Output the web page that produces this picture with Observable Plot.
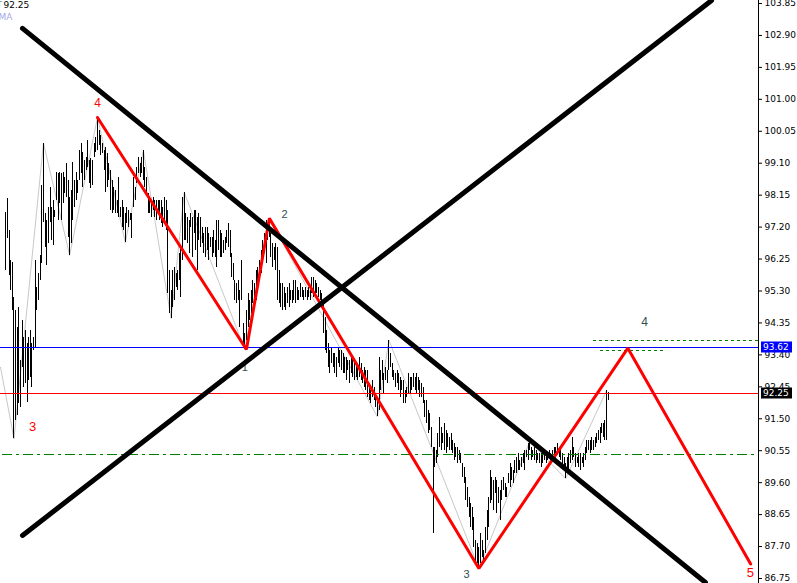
<!DOCTYPE html>
<html><head><meta charset="utf-8">
<script src="https://cdn.jsdelivr.net/npm/d3@7"></script>
<script src="https://cdn.jsdelivr.net/npm/@observablehq/plot@0.6"></script>
<style>html,body{margin:0;padding:0;background:#fff;} #chart{width:797px;height:583px;overflow:hidden;}</style>
</head><body><div id="chart"></div>
<script>
// Bar highs / lows (one entry per bar, oldest first)
const high = [
97.64,98.05,97.10,96.21,96.15,95.11,94.72,94.22,94.81,93.23,
94.42,93.92,94.13,93.74,93.92,94.13,93.74,93.92,96.21,95.41,
95.82,96.36,98.44,99.70,97.61,97.40,97.78,98.38,97.78,97.99,
97.69,98.82,98.79,98.82,98.79,98.82,98.68,99.09,98.59,98.08,
98.29,99.12,98.59,98.82,98.59,99.48,99.69,99.42,99.18,99.27,
99.78,99.18,99.24,99.18,99.69,99.87,100.46,100.07,99.93,99.69,
99.48,99.57,99.39,99.09,98.88,98.59,98.38,98.29,97.99,98.68,
97.78,97.99,
97.78,97.61,97.78,97.69,97.61,97.61,98.68,98.38,98.97,99.27,
99.09,99.27,99.48,98.97,98.68,98.20,98.08,97.99,98.08,97.99,
97.99,97.99,97.99,97.99,97.78,98.08,97.99,97.69,95.91,95.32,
95.91,96.00,95.82,95.91,96.42,96.59,98.08,98.23,97.61,97.49,
97.40,97.61,97.49,97.69,97.69,97.49,97.61,97.49,97.19,97.01,
97.19,97.19,97.01,96.89,96.89,97.10,96.80,97.40,97.40,97.10,
97.01,96.80,96.89,97.10,97.31,97.10,96.42,96.12,95.61,95.52,
95.61,95.32,
96.21,94.33,94.04,94.72,95.23,95.02,95.32,95.61,95.52,95.91,
96.00,96.21,96.51,96.80,97.01,97.40,97.31,97.46,97.01,96.71,
96.59,96.71,96.59,95.91,95.52,95.52,95.41,95.23,95.41,95.52,
95.32,95.32,95.61,95.61,95.41,95.32,95.52,95.41,95.32,95.41,
95.32,95.41,95.32,95.70,95.70,95.61,95.52,95.41,95.32,95.23,
94.93,94.51,94.13,93.74,93.53,93.62,93.44,93.44,93.32,93.62,
93.53,93.53,93.44,93.32,93.32,93.23,93.23,93.32,93.32,93.23,
93.14,93.03,
93.32,93.14,92.94,93.03,92.94,92.94,92.55,92.34,92.64,92.43,
92.25,92.13,93.32,92.94,93.23,92.85,93.03,92.94,93.84,93.44,
93.14,92.94,92.85,92.94,92.85,92.73,92.64,92.64,92.34,92.43,
92.85,92.73,92.73,92.85,92.73,92.85,92.73,92.64,92.55,92.43,
92.04,92.04,91.75,91.66,91.24,90.65,90.65,90.56,91.06,91.54,
91.24,91.06,91.36,91.15,91.06,90.94,91.06,90.85,90.77,90.65,
90.65,90.56,90.47,90.17,90.05,89.75,89.46,89.16,88.98,88.86,
88.56,87.88,87.79,87.67,
88.09,87.88,87.58,88.27,88.77,89.16,89.96,89.75,89.67,89.75,
89.67,89.46,89.37,89.67,89.75,89.58,89.46,89.87,90.17,90.05,
89.96,90.26,90.35,90.47,90.26,90.35,90.47,90.56,90.56,90.77,
90.82,90.65,90.56,90.65,90.56,90.47,90.47,90.47,90.47,90.56,
90.47,90.47,90.56,90.47,90.56,90.65,90.65,90.77,90.65,90.65,
90.47,90.35,90.17,90.35,90.47,90.56,90.94,90.65,90.47,90.35,
90.47,90.47,90.35,90.47,90.65,90.85,90.85,90.85,90.94,90.85,
90.94,91.06,91.15,91.24,91.36,91.36,91.45,92.34,92.28
];
const low = [
95.91,96.86,95.76,95.32,94.72,90.90,91.45,91.60,91.95,91.84,
93.03,92.43,92.55,91.98,92.64,92.73,92.43,93.53,93.59,94.72,
95.02,95.61,96.12,97.34,96.59,96.06,96.71,97.34,96.80,96.65,
97.49,97.99,97.40,97.90,97.40,97.90,98.20,98.08,96.89,96.36,
96.71,97.40,97.78,97.99,98.20,98.59,98.79,98.38,98.59,98.88,
98.97,98.50,98.35,98.44,99.27,99.42,99.48,99.63,99.33,99.39,
98.88,98.23,98.38,98.59,97.69,97.61,97.69,97.61,97.61,97.49,
97.49,97.19,
97.10,96.74,97.31,97.19,97.40,96.86,97.78,97.99,98.50,98.79,
98.68,98.79,98.59,98.38,98.20,97.61,97.61,97.49,97.69,97.49,
97.40,97.61,97.40,97.31,97.19,97.40,97.10,95.23,94.63,94.48,
94.81,95.02,95.41,95.32,95.61,95.11,96.21,96.80,96.80,96.71,
96.42,97.19,96.30,97.01,96.51,95.91,96.80,96.59,96.71,96.42,
96.30,96.51,96.21,96.59,96.30,96.42,96.30,96.00,96.51,96.30,
96.30,96.42,96.51,96.71,96.59,96.30,95.70,95.61,95.02,94.93,
95.02,94.22,
95.02,93.62,93.56,93.83,94.22,94.42,94.63,94.93,95.02,95.02,
95.41,95.70,95.82,96.12,96.42,96.12,96.80,96.89,96.30,96.00,
96.21,95.91,95.02,94.93,94.81,94.72,94.81,94.72,94.93,94.81,
95.02,94.93,95.02,94.93,95.02,95.02,95.11,95.11,95.02,95.11,
95.02,95.11,95.02,95.23,95.11,95.23,95.23,95.11,95.02,94.81,
94.04,93.53,93.44,93.03,92.85,93.14,93.03,92.85,92.73,93.14,
93.03,92.94,92.85,92.85,92.64,92.94,92.55,92.85,92.73,92.64,
92.73,92.64,
92.73,92.64,92.55,92.43,92.34,92.13,92.04,91.95,92.13,92.04,
91.84,91.56,91.75,92.34,92.64,92.25,92.64,92.55,92.94,93.03,
92.73,92.64,92.43,92.55,92.34,92.13,92.34,91.95,91.95,92.13,
92.25,92.25,92.34,92.43,92.34,92.25,92.34,92.13,92.13,91.95,
91.54,91.36,91.06,91.15,90.65,88.09,90.05,90.17,90.35,90.65,
90.56,90.77,90.56,90.47,90.65,90.56,90.56,90.47,90.26,90.35,
90.17,90.26,90.17,89.75,89.58,89.07,88.86,88.56,88.27,88.18,
87.67,87.20,87.20,87.05,
87.20,87.38,87.20,87.49,87.88,88.27,88.98,89.07,88.77,89.28,
88.68,88.98,88.48,89.07,89.37,89.16,89.16,89.58,89.46,89.67,
89.58,89.87,89.87,89.96,89.96,90.05,90.17,89.96,90.35,90.26,
90.56,90.26,90.35,90.26,90.17,90.26,90.17,90.05,90.17,90.26,
90.17,90.26,90.35,90.26,90.26,90.35,90.26,90.47,90.35,90.26,
90.05,89.96,89.72,89.96,89.96,90.17,90.26,90.35,90.05,90.17,
90.05,89.96,90.17,90.05,90.26,90.47,90.56,90.47,90.56,90.56,
90.65,90.77,90.85,90.77,91.06,90.94,90.85,90.85,92.04
];

// ZigZag indicator (thin grey): bar number and price of each swing
const zzIndex = [-3.2, 5, 23, 39, 56, 73, 84, 101, 109, 146, 161, 227, 234, 289, 320, 342, 367];
const zzPrice = [93.03, 90.90, 99.70, 96.36, 100.46, 96.74, 99.48, 94.48, 98.23, 93.56, 97.46, 91.56, 93.84, 87.05, 90.82, 89.72, 92.34];

// Wave count (thick red): bar number and price
const waveIndex = [56, 147, 161, 289, 380, 455];
const wavePrice = [100.46, 93.56, 97.46, 87.05, 93.60, 87.18];

// Trend lines (thick black): two anchor points each
const trendDownIndex = [10.2, 427.4];
const trendDownPrice = [103.11, 86.63];
const trendUpIndex = [10.2, 431.1];
const trendUpPrice = [88.03, 103.94];

// Horizontal levels
const levelPrices = [93.62, 92.25];
const levelColors = ["#0000ff", "#ff0000"];
const tagColors   = ["#0000ff", "#000000"];
const levelGreen = 90.44;
const greenUpper = {price: 93.83, from: 359, to: 459.8};
const greenLower = {price: 93.53, from: 363.3, to: 401.8};

// Wave labels
const labelText  = ["4", "1", "2", "3", "3", "4", "5"];
const labelIndex = [56, 146, 170.3, 281.4, 16.3, 390.2, 454.9];
const labelPrice = [100.88, 93.03, 97.58, 86.87, 91.27, 94.36, 86.93];
const labelColor = ["#ff0000", "#2f4f4f", "#2f4f4f", "#2f4f4f", "#ff0000", "#2f4f4f", "#ff0000"];
const labelSize  = [12, 11, 11, 11, 13, 12, 13];

// Price axis
const yTicks = [86.75, 87.70, 88.65, 89.60, 90.55, 91.50, 92.45, 93.40, 94.35, 95.30, 96.25, 97.20, 98.15, 99.10, 100.05, 101.00, 101.95, 102.90, 103.85];
const xDomain = [-3.24, 459.8];
const yDomain = [86.601, 103.939];

const bars = high.map((h, i) => ({i, high: h, low: low[i]}));
const zz = zzIndex.map((i, k) => ({i, p: zzPrice[k]}));
const waves = waveIndex.map((i, k) => ({i, p: wavePrice[k]}));
const trends = [
  ...trendDownIndex.map((i, k) => ({name: "down", i, p: trendDownPrice[k]})),
  ...trendUpIndex.map((i, k) => ({name: "up", i, p: trendUpPrice[k]}))
];
const labels = labelText.map((t, k) => ({t, i: labelIndex[k], p: labelPrice[k], c: labelColor[k], s: labelSize[k]}));
const greens = [greenUpper, greenLower];

const plot = Plot.plot({
  width: 797, height: 583,
  marginLeft: 0, marginRight: 39, marginTop: 0, marginBottom: 0,
  x: {domain: xDomain, axis: null},
  y: {domain: yDomain},
  style: {fontFamily: "DejaVu Sans", fontSize: "9px", background: "white", color: "black"},
  marks: [
    Plot.line(zz, {x: "i", y: "p", stroke: "#c8c8c8", strokeWidth: 1}),
    Plot.ruleX(bars, {x: "i", y1: "low", y2: "high", stroke: "black", strokeWidth: 1, shapeRendering: "crispEdges"}),
    Plot.ruleY([levelPrices[0]], {stroke: levelColors[0], strokeWidth: 1, shapeRendering: "crispEdges"}),
    Plot.ruleY([levelPrices[1]], {stroke: levelColors[1], strokeWidth: 1, shapeRendering: "crispEdges"}),
    Plot.ruleY([levelGreen], {x1: -2, x2: xDomain[1], stroke: "#008000", strokeWidth: 1, strokeDasharray: "10,4,3,4", shapeRendering: "crispEdges"}),
    Plot.ruleY(greens, {y: "price", x1: "from", x2: "to", stroke: "#008000", strokeWidth: 1, strokeDasharray: "3,3", shapeRendering: "crispEdges"}),
    Plot.line(waves, {x: "i", y: "p", stroke: "#ff0000", strokeWidth: 3, strokeLinejoin: "miter"}),
    Plot.text(labels.filter(d => d.c === "#ff0000"), {x: "i", y: "p", text: "t", fill: "#ff0000", fontSize: "s", fontFamily: "Liberation Sans"}),
    Plot.text(labels.filter(d => d.c !== "#ff0000"), {x: "i", y: "p", text: "t", fill: "#2f4f4f", fontSize: "s", fontFamily: "Liberation Sans"}),
    Plot.line(trends, {x: "i", y: "p", z: "name", stroke: "black", strokeWidth: 5, strokeLinecap: "round"}),
    Plot.ruleX([xDomain[1]], {stroke: "black", strokeWidth: 1}),
    Plot.axisY(yTicks, {anchor: "right", tickSize: 3, tickPadding: 3, tickFormat: d => d.toFixed(2), label: null, fontSize: 9}),
    Plot.text(["92.25"], {frameAnchor: "top-left", dx: 3, dy: 1, textAnchor: "start", fill: "black", fontSize: 9}),
    Plot.text(["T"], {frameAnchor: "top-left", dx: -4, dy: 1, textAnchor: "start", fill: "#8090a0", fontSize: 9}),
    Plot.text(["MA"], {frameAnchor: "top-left", dx: -2, dy: 13, textAnchor: "start", fill: "#a8a8e8", fontSize: 9})
  ]
});

document.getElementById("chart").appendChild(plot);

// price tags on the right axis, placed with the plot's own y scale
const ys = plot.scale("y");
const svg = d3.select(plot);
levelPrices.forEach((p, k) => {
  const y = Math.round(ys.apply(p)) + 0.5;
  const g = svg.append("g").attr("text-anchor", "start");
  g.append("rect").attr("x", 761).attr("y", y - 6).attr("width", 31).attr("height", 11).style("fill", tagColors[k]);
  g.append("text").attr("x", 763).attr("y", y - 0.5).attr("dy", "0.35em").style("fill", "#ffffff")
    .attr("text-anchor", "start").attr("font-family", "DejaVu Sans").attr("font-size", 9).text(p.toFixed(2));
});
</script>
</body></html>
